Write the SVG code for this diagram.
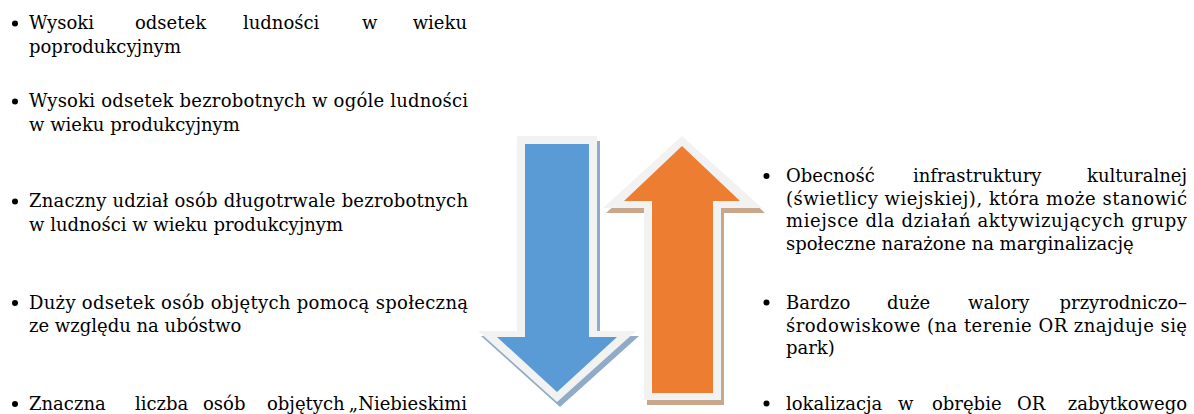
<svg xmlns="http://www.w3.org/2000/svg" width="1194" height="414" viewBox="0 0 1194 414">
<style>
.t{font-family:"DejaVu Serif","Liberation Serif",serif;font-size:18px;fill:#000}
.e{text-anchor:end}
.bul{fill:#000}
.border{fill:#f2f2f2}
</style>
<rect width="1194" height="414" fill="#fff"/>
<g id="arrow-down">
<path d="M517,136 H597 V331 H636 L557,402 L478,331 H517 Z" fill="#8fabc7" transform="translate(3,5)"/>
<path class="border" d="M517,136 H597 V331 H636 L557,402 L478,331 H517 Z"/>
<path d="M525,144 H589 V337 H617 L557,392 L497,337 H525 Z" fill="#5b9bd5"/>
</g>
<g id="arrow-up">
<path d="M682,136 L762,208 H721 V400 H644 V208 H603 Z" fill="#c9a78c" transform="translate(3,5)"/>
<path class="border" d="M682,136 L762,208 H721 V400 H644 V208 H603 Z"/>
<path d="M682,146 L740,201 H713 V393 H652 V201 H624 Z" fill="#ed7d31"/>
</g>
<g id="weakness-1">
<circle class="bul" cx="15" cy="23.5" r="3"/>
<text class="t" y="29"><tspan x="29">Wysoki</tspan><tspan x="135">odsetek</tspan><tspan x="243">ludności</tspan><tspan x="362">w</tspan><tspan x="467" class="e">wieku</tspan></text>
<text class="t" x="29" y="53">poprodukcyjnym</text>
</g>
<g id="weakness-2">
<circle class="bul" cx="15" cy="101.5" r="3"/>
<text class="t" x="29" y="107" textLength="439" lengthAdjust="spacing">Wysoki odsetek bezrobotnych w ogóle ludności</text>
<text class="t" x="29" y="130.5">w wieku produkcyjnym</text>
</g>
<g id="weakness-3">
<circle class="bul" cx="15" cy="201.5" r="3"/>
<text class="t" x="29" y="207" textLength="439" lengthAdjust="spacing">Znaczny udział osób długotrwale bezrobotnych</text>
<text class="t" x="29" y="230.5">w ludności w wieku produkcyjnym</text>
</g>
<g id="weakness-4">
<circle class="bul" cx="15" cy="303" r="3"/>
<text class="t" x="29" y="308.5" textLength="439" lengthAdjust="spacing">Duży odsetek osób objętych pomocą społeczną</text>
<text class="t" x="29" y="332">ze względu na ubóstwo</text>
</g>
<g id="weakness-5">
<circle class="bul" cx="15" cy="404" r="3"/>
<text class="t" y="409.5"><tspan x="29">Znaczna</tspan><tspan x="135">liczba</tspan><tspan x="203">osób</tspan><tspan x="267">objętych</tspan><tspan x="467" class="e">„Niebieskimi</tspan></text>
</g>
<g id="strength-1">
<circle class="bul" cx="766.5" cy="176" r="3"/>
<text class="t" y="182"><tspan x="786">Obecność</tspan><tspan x="913">infrastruktury</tspan><tspan x="1187" class="e">kulturalnej</tspan></text>
<text class="t" x="786" y="204.5" textLength="401" lengthAdjust="spacing">(świetlicy wiejskiej), która może stanowić</text>
<text class="t" x="786" y="227" textLength="401" lengthAdjust="spacing">miejsce dla działań aktywizujących grupy</text>
<text class="t" x="786" y="249.5">społeczne narażone na marginalizację</text>
</g>
<g id="strength-2">
<circle class="bul" cx="766.5" cy="302.5" r="3"/>
<text class="t" y="308.5"><tspan x="786">Bardzo</tspan><tspan x="887">duże</tspan><tspan x="968">walory</tspan><tspan x="1187" class="e">przyrodniczo–</tspan></text>
<text class="t" x="786" y="331.5" textLength="401" lengthAdjust="spacing">środowiskowe (na terenie OR znajduje się</text>
<text class="t" x="786" y="354">park)</text>
</g>
<g id="strength-3">
<circle class="bul" cx="766.5" cy="403.5" r="3"/>
<text class="t" y="409.5"><tspan x="786">lokalizacja</tspan><tspan x="898">w</tspan><tspan x="932">obrębie</tspan><tspan x="1017">OR</tspan><tspan x="1187" class="e">zabytkowego</tspan></text>
</g>
</svg>
